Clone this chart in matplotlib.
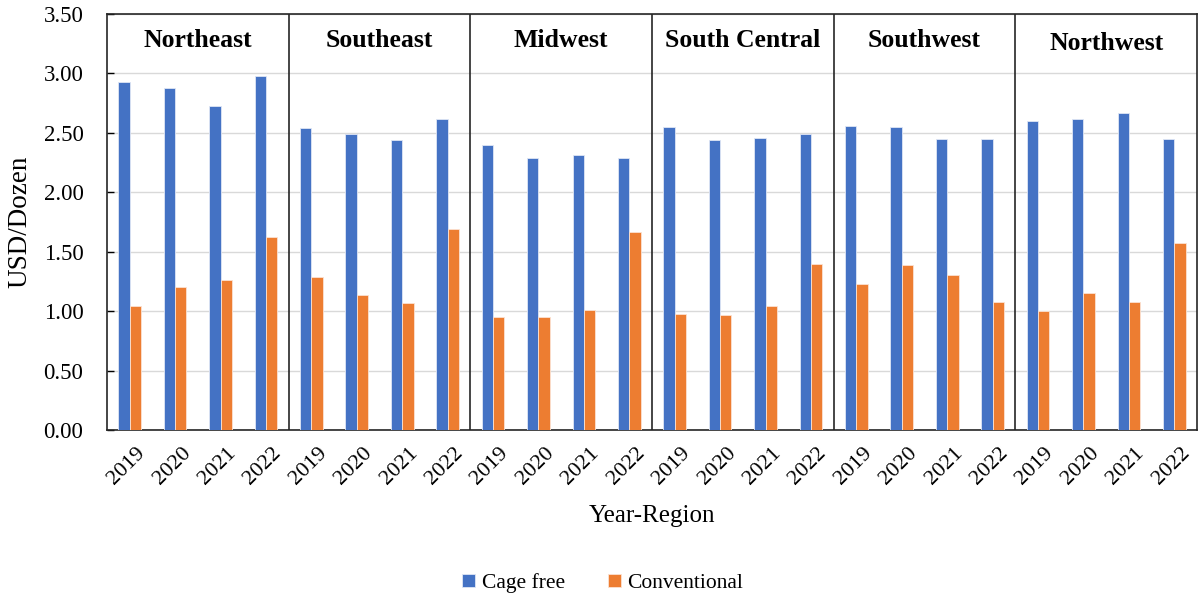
import matplotlib
matplotlib.use("Agg")
import matplotlib.pyplot as plt
import matplotlib.transforms as mtransforms
import numpy as np

regions = ["Northeast", "Southeast", "Midwest", "South Central", "Southwest", "Northwest"]
years = ["2019", "2020", "2021", "2022"]
cage_free = [2.93, 2.88, 2.73, 2.98,
             2.54, 2.49, 2.44, 2.62,
             2.40, 2.29, 2.31, 2.29,
             2.55, 2.44, 2.46, 2.49,
             2.56, 2.55, 2.45, 2.45,
             2.60, 2.62, 2.67, 2.45]
conventional = [1.04, 1.20, 1.26, 1.62,
                1.29, 1.14, 1.07, 1.69,
                0.95, 0.95, 1.01, 1.67,
                0.98, 0.97, 1.04, 1.40,
                1.23, 1.39, 1.30, 1.08,
                1.00, 1.15, 1.08, 1.57]

plt.rcParams['font.family'] = ['Liberation Serif', 'DejaVu Serif']

fig = plt.figure(figsize=(11.98, 5.98), dpi=100)
ax = fig.add_axes([107/1198, 1-430/598, (1197-107)/1198, (430-14)/598])

n = len(cage_free)
x = np.arange(n)
w = 0.25
blue = "#4472C4"
orange = "#ED7D31"
ax.bar(x - w/2, cage_free, width=w, color=blue, edgecolor="#dfe6f5", linewidth=0.6,
       label="Cage free", zorder=3)
ax.bar(x + w/2, conventional, width=w, color=orange, edgecolor="#fbe2d2", linewidth=0.6,
       label="Conventional", zorder=3)

ax.set_xlim(-0.5, n - 0.5)
ax.set_ylim(0, 3.5)
ax.set_yticks(np.arange(0, 3.51, 0.5))
ax.set_yticklabels([f"{v:.2f}" for v in np.arange(0, 3.51, 0.5)], fontsize=16.5)
ax.yaxis.grid(True, color="#d9d9d9", linewidth=1.0, zorder=0)
ax.set_axisbelow(True)

ax.set_xticks(x)
ax.set_xticklabels(years * len(regions), rotation=45, ha="right",
                   rotation_mode="anchor", fontsize=16)
ax.tick_params(axis="x", length=0, pad=10)
ax.tick_params(axis="y", length=5, width=1, direction="in", pad=17)
offset = mtransforms.ScaledTranslation(6/100, 0, fig.dpi_scale_trans)
for lbl in ax.get_xticklabels():
    lbl.set_transform(lbl.get_transform() + offset)

for s in ax.spines.values():
    s.set_color("#262626")
    s.set_linewidth(1.2)

ng = len(years)
for g in range(1, len(regions)):
    ax.axvline(g * ng - 0.5, color="#262626", linewidth=1.2, zorder=4)

for g, name in enumerate(regions):
    yy = 3.25 if name == "Northwest" else 3.28
    ax.text(g * ng + (ng - 1) / 2, yy, name, ha="center", va="center",
            fontsize=18.5, fontweight="bold", zorder=5)

ax.set_ylabel("USD/Dozen", fontsize=19.5, labelpad=8)
ax.set_xlabel("Year-Region", fontsize=18, labelpad=12)

handles, labels = ax.get_legend_handles_labels()
fig.legend(handles, labels, loc="center", bbox_to_anchor=(0.503, 1 - 583/598),
           ncol=2, frameon=False, fontsize=15.5, handlelength=0.6, handleheight=0.6,
           handletextpad=0.3, columnspacing=2.0)

fig.savefig("out.png", dpi=100)
